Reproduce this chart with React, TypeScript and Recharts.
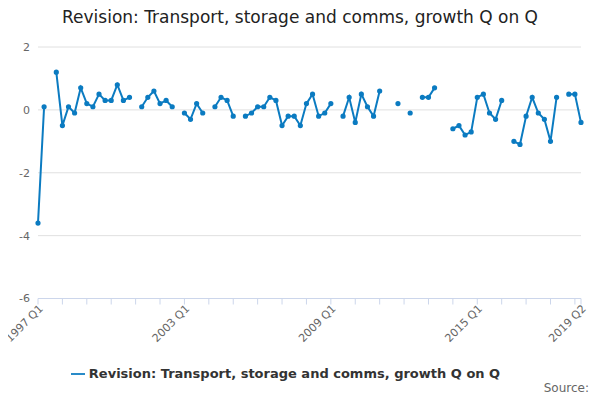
import React from 'react';
import { LineChart, Line, XAxis, YAxis, CartesianGrid, Legend } from 'recharts';

const startYear = 1997;
const values: (number | null)[] = [
  -3.6, 0.1, null, 1.2, -0.5, 0.1, -0.1, 0.7, 0.2, 0.1, 0.5, 0.3, 0.3, 0.8, 0.3, 0.4,
  null, 0.1, 0.4, 0.6, 0.2, 0.3, 0.1, null, -0.1, -0.3, 0.2, -0.1, null, 0.1, 0.4, 0.3,
  -0.2, null, -0.2, -0.1, 0.1, 0.1, 0.4, 0.3, -0.5, -0.2, -0.2, -0.5, 0.2, 0.5, -0.2, -0.1,
  0.2, null, -0.2, 0.4, -0.4, 0.5, 0.1, -0.2, 0.6, null, null, 0.2, null, -0.1, null, 0.4,
  0.4, 0.7, null, null, -0.6, -0.5, -0.8, -0.7, 0.4, 0.5, -0.1, -0.3, 0.3, null, -1.0, -1.1,
  -0.2, 0.4, -0.1, -0.3, -1.0, 0.4, null, 0.5, 0.5, -0.4,
];
const labelled = ['1997 Q1', '2003 Q1', '2009 Q1', '2015 Q1', '2019 Q2'];
const yTicks = [-6, -4, -2, 0, 2];
const seriesName = 'Revision: Transport, storage and comms, growth Q on Q';

const data = values.map((v, i) => ({
  q: `${startYear + Math.floor(i / 4)} Q${(i % 4) + 1}`,
  v,
}));
const tickCats = data.filter((d, i) => i % 4 === 0 || i === data.length - 1).map((d) => d.q);

const font = 'DejaVu Sans, sans-serif';

const XTick = (props: any) => {
  const { x, y, payload } = props;
  const show = labelled.includes(payload.value);
  return (
    <g transform={`translate(${x},${y})`}>
      {show && (
        <text x={2} y={6} textAnchor="end" fontSize={11} fill="#666" fontFamily={font} transform="rotate(-45)">
          {payload.value}
        </text>
      )}
    </g>
  );
};

export default function App() {
  return (
    <div style={{ width: 600, height: 400, position: 'relative', margin: -8, fontFamily: font }}>
      <div style={{ position: 'absolute', top: 7, width: 600, textAlign: 'center', fontSize: 17, color: '#222' }}>
        {seriesName}
      </div>
      <LineChart width={600} height={400} data={data} margin={{ top: 47, right: 19, left: 0, bottom: 23 }}>
        <CartesianGrid vertical={false} stroke="#e0e0e0" />
        <XAxis
          dataKey="q"
          ticks={tickCats}
          interval={0}
          tick={<XTick />}
          tickLine={{ stroke: '#ccd6eb' }}
          axisLine={{ stroke: '#ccd6eb' }}
          height={63}
        />
        <YAxis
          domain={[-6, 2]}
          ticks={yTicks}
          width={38}
          axisLine={false}
          tickLine={false}
          tick={{ fontSize: 11, fill: '#666', fontFamily: font }}
        />
        <Legend
          verticalAlign="bottom"
          iconType="plainline"
          formatter={(value: string) => <span style={{ color: '#333' }}>{value}</span>}
          wrapperStyle={{ fontSize: 13, fontWeight: 'bold', bottom: 19 }}
        />
        <Line
          type="linear"
          dataKey="v"
          name={seriesName}
          stroke="#0b7bc1"
          strokeWidth={2}
          dot={{ r: 1.6, fill: '#0b7bc1', stroke: '#0b7bc1' }}
          connectNulls={false}
          isAnimationActive={false}
        />
      </LineChart>
      <div style={{ position: 'absolute', right: 11, top: 381, fontSize: 12, color: '#666' }}>Source:</div>
    </div>
  );
}
